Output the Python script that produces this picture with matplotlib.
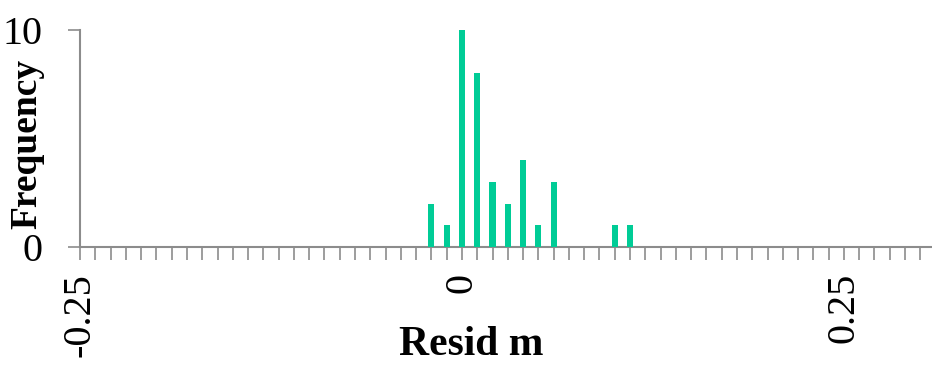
import matplotlib
matplotlib.use("Agg")
import matplotlib.pyplot as plt
from matplotlib.ticker import FixedLocator
import numpy as np

bin_centers = [-0.02, -0.01, 0.00, 0.01, 0.02, 0.03, 0.04, 0.05, 0.06, 0.10, 0.11]
counts = [2, 1, 10, 8, 3, 2, 4, 1, 3, 1, 1]
x_major = [-0.25, 0.0, 0.25]
x_major_labels = ["-0.25", "0", "0.25"]
y_ticks = [0, 10]

plt.rcParams['font.family'] = ['Liberation Serif', 'DejaVu Serif']

fig = plt.figure(figsize=(9.32, 3.66), dpi=100)
ax = fig.add_axes([80/932, (366-247)/366, (931-80)/932, (247-30)/366])

ax.bar(bin_centers, counts, width=0.004, color='#00CC96', zorder=3)

ax.set_xlim(-0.25, 0.307)
ax.set_ylim(0, 10)

gray = '#8c8c8c'
for s in ['top', 'right']:
    ax.spines[s].set_visible(False)
for s in ['left', 'bottom']:
    ax.spines[s].set_color(gray)
    ax.spines[s].set_linewidth(1.5)

ax.xaxis.set_major_locator(FixedLocator(x_major))
ax.set_xticklabels(x_major_labels, rotation=90)
ax.xaxis.set_minor_locator(FixedLocator(np.round(np.arange(-0.25, 0.3001, 0.01), 3)))
ax.set_yticks(y_ticks)
ax.set_yticklabels([str(v) for v in y_ticks])

ax.tick_params(axis='x', which='both', direction='out', length=9.5, width=1.2, color=gray,
               labelsize=29, pad=9)
ax.tick_params(axis='y', which='both', direction='out', length=9, width=1.2, color=gray,
               labelsize=29, pad=18)

ax.set_xlabel("Resid m", fontsize=30, fontweight='bold')
ax.xaxis.set_label_coords((471-80)/(931-80), -(345-247)/(247-30), transform=ax.transAxes)
ax.set_ylabel("Frequency", fontsize=27, fontweight='bold')
ax.yaxis.set_label_coords(-(80-27)/(931-80), (247-144)/(247-30))
ax.xaxis.label.set_va('center')
ax.yaxis.label.set_va('center')

fig.savefig("out.png", dpi=100)
